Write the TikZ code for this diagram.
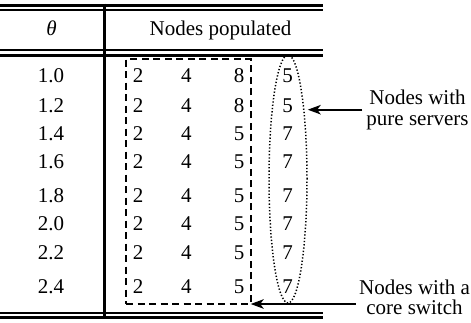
\documentclass[tikz,border=0pt]{standalone}
\usepackage{fontspec}
\setmainfont{LiberationSerif}[Extension=.ttf, UprightFont=*-Regular, ItalicFont=*-Italic,
  BoldFont=*-Bold, BoldItalicFont=*-BoldItalic]
\usetikzlibrary{arrows.meta,shapes.geometric}
\begin{document}
\begin{tikzpicture}[x=1pt,y=-1pt,
  every node/.style={font=\rmfamily\fontsize{21}{20.5}\selectfont, inner sep=0pt},
  cell/.style={anchor=base},
  rulethin/.style={line width=2pt},
  rulethick/.style={line width=3pt},
  groupbox/.style={draw, rectangle, outer sep=0pt, dash pattern=on 7pt off 4.5pt,
    line width=1.9pt, minimum width=124.7pt, minimum height=244.7pt},
  groupoval/.style={draw, ellipse, dash pattern=on 1.3pt off 2pt,
    line width=1.5pt, minimum width=38pt, minimum height=248pt},
  pointer/.style={line width=1.8pt, -{Stealth[length=13pt,width=9.5pt,inset=3.5pt]}},
  note/.style={align=center}]
\useasboundingbox (0,0) rectangle (471,322);

% table rules
\draw[rulethick] (0,5) -- (323,5);
\draw[rulethin]  (0,9.5) -- (323,9.5);
\draw[rulethin]  (0,50.3) -- (323,50.3);
\draw[rulethick] (0,55) -- (323,55);
\draw[rulethin]  (0,312.5) -- (323,312.5);
\draw[rulethick] (0,317) -- (323,317);
\draw[rulethick] (104.3,3.5) -- (104.3,318.5);

% header
\node[cell] (thetaHead) at (51.5,35) {\itshape θ};
\node[cell] (popHead) at (220.5,35) {Nodes populated};

% body
\foreach \tv/\y/\c/\d [count=\i] in {1.0/82.4/8/5, 1.2/112.1/8/5, 1.4/140.4/5/7,
    1.6/168.8/5/7, 1.8/202.1/5/7, 2.0/230.4/5/7, 2.2/259.1/5/7, 2.4/293.8/5/7}{
  \node[cell] (theta\i) at (51,\y) {\tv};
  \node[cell] (colA\i) at (138,\y) {2};
  \node[cell] (colB\i) at (186.3,\y) {4};
  \node[cell] (colC\i) at (239,\y) {\c};
  \node[cell] (colD\i) at (287.5,\y) {\d};
}

% groupings
\node[groupbox] (switchbox) at (188.35,181.65) {};
\node[groupoval] (servers) at (288,179) {};

% annotations
\node[note, inner xsep=4pt] (pureLbl) at (417.5,109.7) {Nodes with\\pure servers};
\node[note] (coreLbl) at (414.5,297.1) {Nodes with a\\core switch};
\draw[pointer] (pureLbl.west) -- (pureLbl.west -| servers.east);
\draw[pointer, shorten <=3pt] (coreLbl.west |- switchbox.south east) -- (switchbox.south east);
\end{tikzpicture}
\end{document}
